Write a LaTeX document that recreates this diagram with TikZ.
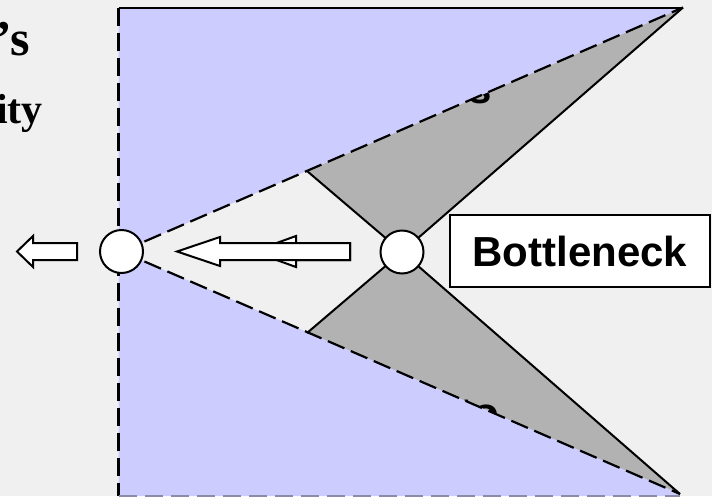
\documentclass[tikz,border=0pt]{standalone}
\usepackage{fontspec}
\setmainfont{Liberation Serif}
\newfontfamily\headsans{Liberation Sans}
\begin{document}
\definecolor{pagebg}{HTML}{F0F0F0}
\definecolor{zoneblue}{HTML}{CCCCFF}
\definecolor{funnelgray}{HTML}{B2B2B2}
\definecolor{edgegray}{HTML}{8C8CA8}
\begin{tikzpicture}[x=1pt,y=-1pt,
  dashline/.style={draw=black,line width=2.2pt,dash pattern=on 18pt off 7pt},
  solidline/.style={draw=black,line width=2pt},
  station/.style={circle,draw=black,fill=white,line width=2pt,minimum size=43pt,inner sep=0pt},
  flowarrow/.style={draw=black,fill=white,line width=2pt,line join=miter},
  labelbox/.style={draw=black,fill=white,line width=2pt,minimum width=260pt,minimum height=72pt,inner sep=0pt,
    font=\headsans\bfseries\fontsize{42}{48}\selectfont},
  hidden/.style={inner sep=0pt,font=\headsans\bfseries\fontsize{42}{48}\selectfont}]
\useasboundingbox (0,0) rectangle (712,496);
\fill[pagebg] (0,0) rectangle (712,496);

% key points of the funnel
\coordinate (TL) at (118.5,7.5);
\coordinate (TA) at (683,7.5);
\coordinate (BA) at (680,494);
\coordinate (UP) at (307,171);
\coordinate (LP) at (307,333);
\coordinate (Lctr) at (121.5,251.5);
\coordinate (Rctr) at (402,252);

% gray flanks of the bottleneck
\fill[funnelgray] (UP) -- (TA) -- (Rctr) -- cycle;
\fill[funnelgray] (LP) -- (BA) -- (Rctr) -- cycle;

% labels lying under the blue zone
\node[hidden,anchor=base east] (fragA) at (492,103) {s};
\node[hidden,anchor=base west] (fragB) at (459,427) {to};

% blue zone
\fill[zoneblue] (TL) -- (TA) -- (Lctr) -- (BA) -- (680,496) -- (118.5,496) -- cycle;
\draw[black,line width=2pt] (TL) -- (TA);
\draw[dashline] (TL) -- (118.5,496);
\draw[edgegray,line width=2pt,dash pattern=on 18pt off 8pt] (118.5,495.5) -- (680,495.5);

% funnel borders
\draw[dashline] (Lctr) -- (TA);
\draw[dashline] (Lctr) -- (BA);
\draw[solidline] (UP) -- (Rctr) -- (BA);
\draw[solidline] (LP) -- (Rctr) -- (TA);

% stations
\node[station] (Lc) at (Lctr) {};
\node[station] (Rc) at (Rctr) {};

% flow arrows
\draw[flowarrow] (77,243) -- (33,243) -- (33,236) -- (17,251.5) -- (33,267) -- (33,260) -- (77,260) -- cycle;
\draw[flowarrow] (350,243) -- (296,243) -- (296,236) -- (253,251.5) -- (296,267) -- (296,260) -- (350,260) -- cycle;
\draw[flowarrow] (350,243) -- (220,243) -- (220,237) -- (177,251.5) -- (220,266) -- (220,260) -- (350,260) -- cycle;

% label
\node[labelbox] (bn) at (580,251) {Bottleneck};

% heading text at the left
\node[inner sep=0pt,anchor=base east,font=\bfseries\fontsize{50}{54}\selectfont] (h1) at (30,55) {’s};
\node[inner sep=0pt,anchor=base east,font=\bfseries\fontsize{42}{46}\selectfont] (h2) at (43,123) {ity};
\end{tikzpicture}
\end{document}
